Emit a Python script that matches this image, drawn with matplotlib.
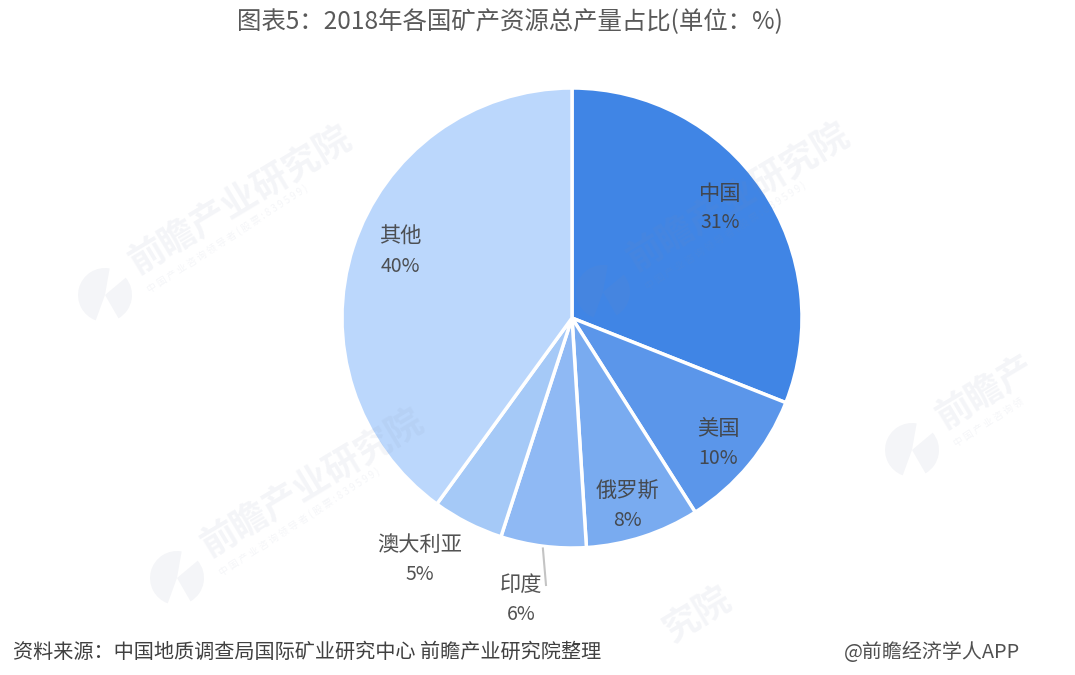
#!/usr/bin/env python3

import numpy as np
import matplotlib
matplotlib.use("Agg")

import matplotlib.pyplot as plt
from matplotlib.patches import Rectangle, Wedge

plt.rcParams["font.family"] = ["Noto Sans CJK SC", "DejaVu Sans"]

title = "图表5：2018年各国矿产资源总产量占比(单位：%)"
source = "资料来源：中国地质调查局国际矿业研究中心 前瞻产业研究院整理"
credit = "@前瞻经济学人APP"
wm_big = "前瞻产业研究院"
wm_small = "中 国 产 业 咨 询 领 导 者 ( 股 票 : 8 3 9 5 9 9 )"

names = ["中国", "美国", "俄罗斯", "印度", "澳大利亚", "其他"]
shares = [31, 10, 8, 6, 5, 40]
colors = ["#4085E5", "#5B96EA", "#79ABF0", "#8FB9F4", "#A5C9F7", "#BBD7FC"]

# label centres in figure pixels, y measured from the top
label_xy = [(720, 208), (718, 443), (627, 506), (521, 599), (420, 559), (400, 251)]
leader_end = (546, 585)

# logo centre of each watermark, right/bottom cut-off, visible part of the two strings
wm_logos = [(105, 295), (603, 292), (177, 578), (912, 450), (485, 755)]
wm_right = [1075, 1075, 1075, 1020, 1075]
wm_big_part = [(0, 7), (0, 7), (0, 7), (0, 3), (5, 7)]
wm_small_part = [99, 99, 99, 14, 0]

W, H = 1075, 675
CX, CY, R = 572, 318, 230

fig = plt.figure(figsize=(W / 100, H / 100), dpi=100, facecolor="white")

ax = fig.add_axes([(CX - R) / W, (H - CY - R) / H, 2 * R / W, 2 * R / H])
wedges, _ = ax.pie(shares, colors=colors, startangle=90, counterclock=False, radius=1,
                   wedgeprops={"edgecolor": "white", "linewidth": 2.5})
ax.set_xlim(-1, 1)
ax.set_ylim(-1, 1)

over = fig.add_axes([0, 0, 1, 1])
over.set_xlim(0, W)
over.set_ylim(H, 0)
over.axis("off")

wm_color = "#8090B0"
wm_alpha = 0.085
char_px = 36.1
ca, sa = np.cos(np.deg2rad(31)), np.sin(np.deg2rad(31))
for (lx, ly), right, (b0, b1), n_small in zip(wm_logos, wm_right, wm_big_part, wm_small_part):
    box = Rectangle((0, 0), right, 625, transform=over.transData)
    for t1, t2 in [(110, 280), (-40, 60)]:
        piece = Wedge((lx, ly), 27, t1, t2, color=wm_color, alpha=wm_alpha, linewidth=0)
        over.add_patch(piece)
        piece.set_clip_path(box)
    big = over.text(lx + 27 + b0 * char_px * ca, ly - 29 - b0 * char_px * sa, wm_big[b0:b1],
                    color=wm_color, alpha=wm_alpha, fontsize=26, fontweight="bold",
                    rotation=31, rotation_mode="anchor", ha="left", va="center")
    big.set_clip_path(box)
    if n_small:
        small = over.text(lx + 43, ly - 5, wm_small[:n_small], color=wm_color, alpha=wm_alpha,
                          fontsize=7, rotation=33, rotation_mode="anchor", ha="left", va="center")
        small.set_clip_path(box)

# leader line for the India slice, starts on the slice's mid angle
india = wedges[names.index("印度")]
mid = np.deg2rad((india.theta1 + india.theta2) / 2)
start = (CX + 1.01 * R * np.cos(mid), CY - 1.01 * R * np.sin(mid))
over.plot([start[0], leader_end[0]], [start[1], leader_end[1]], color="#C4C4C4", linewidth=1.5)

for name, share, (x, y) in zip(names, shares, label_xy):
    over.text(x, y - 14, name, color="#404040", alpha=0.9, fontsize=15.3, ha="center", va="center")
    over.text(x, y + 15, f"{share}%", color="#404040", alpha=0.9, fontsize=14, ha="center", va="center")

over.text(510, 22, title, color="#595959", fontsize=17.6, ha="center", va="center")
over.text(13, 652, source, color="#404040", fontsize=14.5, style="italic", ha="left", va="center")
over.text(1020, 652, credit, color="#505050", fontsize=14.4, ha="right", va="center")

plt.savefig("out.png", dpi=100)
